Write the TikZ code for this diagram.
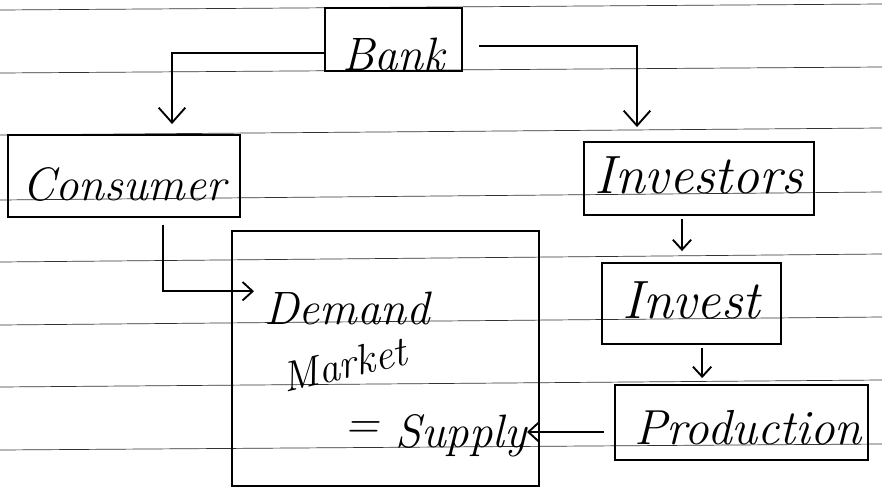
\documentclass[tikz,border=0pt]{standalone}
\usepackage{tikz}
\usetikzlibrary{arrows.meta,positioning}

\begin{document}
\begin{tikzpicture}[x=0.03cm,y=-0.03cm]
    \tikzstyle{rule}=[line width=0.6pt,color=black!80]
    \tikzstyle{word}=[inner sep=0pt,font=\itshape\fontsize{40}{44}\selectfont]
    \tikzstyle{box}=[word,rectangle,draw,line width=1.6pt,anchor=base]
    \tikzstyle{link}=[line width=1.6pt]
    \tikzstyle{tip}=[link,-{Straight Barb[length=0.45cm,width=0.8cm]}]      % long arrows
    \tikzstyle{smalltip}=[link,-{Straight Barb[length=0.3cm,width=0.55cm]}] % short arrows

    \useasboundingbox (0,0) rectangle (882,497);
    \fill[white] (0,0) rectangle (882,497);

    % ruled paper
    \foreach \yl/\yr in {10/4,73/67,135/128,200/192,262/254,325/317,387/380,450/444}
        \draw[rule] (0,\yl) -- (882,\yr);

    \node[box,minimum width=4.11cm,text height=1.86cm,text depth=0.03cm] (bank) at (393.5,70) {Bank};
    \node[box,minimum width=6.96cm,text height=1.95cm,text depth=0.51cm] (consumer) at (124,200) {Consumer};
    \node[box,font=\itshape\fontsize{46}{50}\selectfont,minimum width=6.90cm,text height=1.53cm,text depth=0.66cm] (investors) at (699,193) {Investors};
    \node[box,font=\itshape\fontsize{46}{50}\selectfont,minimum width=5.37cm,text height=1.65cm,text depth=0.78cm] (invest) at (691.5,318) {Invest};
    \node[box,font=\itshape\fontsize{42}{46}\selectfont,minimum width=7.59cm,text height=1.77cm,text depth=0.48cm] (production) at (741.5,444) {\hspace*{0.4cm}Production};

    % market
    \node[draw,line width=1.6pt,minimum width=9.21cm,minimum height=7.65cm] (market) at (385.5,358.5) {};
    \node[word,anchor=base west] (demand) at (264,324) {Demand};
    \node[word,font=\itshape\fontsize{36}{40}\selectfont,rotate=13,anchor=base west] (marketlbl) at (285,393) {Market};
    \node[word,anchor=base east,text height=1.2cm,text depth=0.3cm] (supply) at (527,447) {\raisebox{0.25cm}{=}\ Supply};

    \draw[tip,shorten >=0.3cm] ([yshift=-0.4cm]bank.west) -| ([xshift=1.44cm]consumer.north);
    \draw[tip,shorten <=0.48cm,shorten >=0.42cm] ([yshift=-0.2cm]bank.east) -| ([xshift=-1.86cm]investors.north);
    \draw[smalltip,shorten <=0.2cm] ([xshift=1.17cm]consumer.south) |- ([xshift=-0.3cm]demand.north west);
    \draw[smalltip,shorten <=0.09cm,shorten >=0.33cm] ([xshift=-0.51cm]investors.south) -- ([xshift=-0.51cm]investors.south |- invest.north);
    \draw[smalltip,shorten <=0.09cm,shorten >=0.18cm] ([xshift=0.32cm]invest.south) -- ([xshift=0.32cm]invest.south |- production.north);
    \draw[smalltip,shorten <=0.3cm] (production.west |- supply.east) -- (supply.east);
\end{tikzpicture}
\end{document}
